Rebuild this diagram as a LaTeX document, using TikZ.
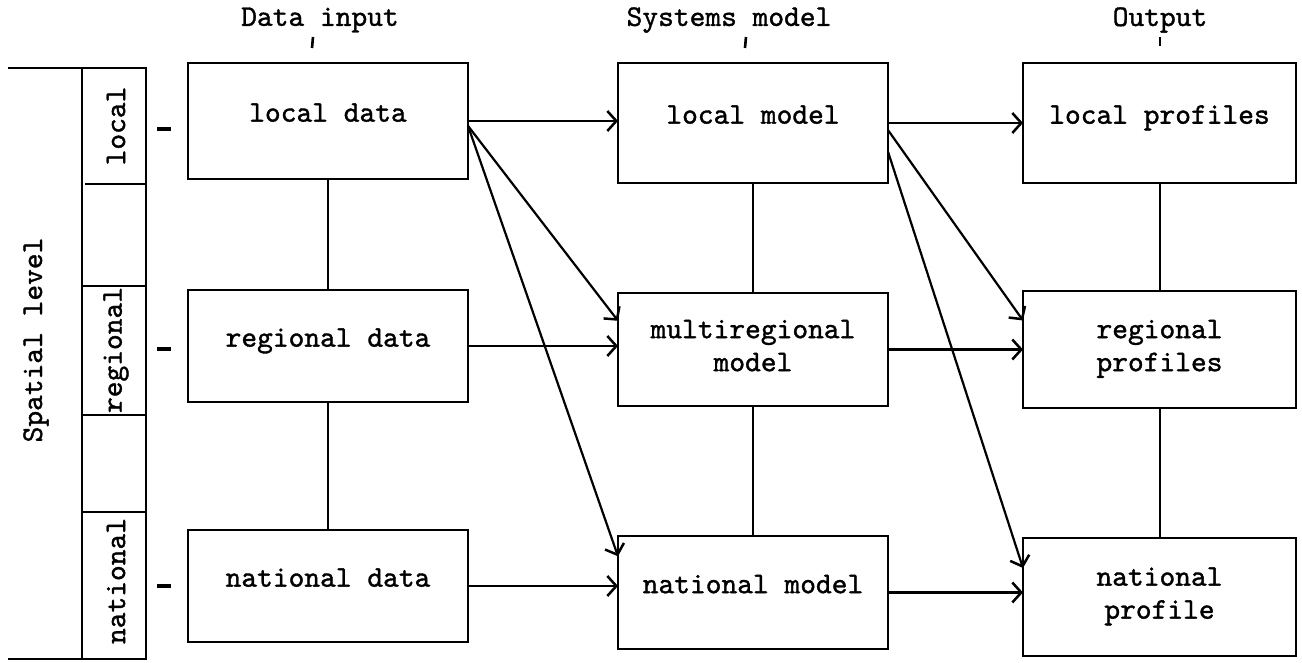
\documentclass[tikz,border=0pt]{standalone}
\usepackage{fontspec}
\newfontfamily\tw{lmmono10-regular.otf}[FakeBold=1.2]
\usetikzlibrary{arrows.meta,calc}
\begin{document}
\begin{tikzpicture}[x=1pt,y=-1pt,
  box/.style={draw,line width=2.2pt,inner sep=0pt,outer sep=0pt,anchor=north west,align=center,
    text depth=17pt,font=\tw\fontsize{30}{33}\selectfont},
  twoline/.style={text depth=8pt},
  hdr/.style={inner sep=0pt,font=\tw\fontsize{30}{33}\selectfont},
  lbl/.style={inner sep=0pt,rotate=90,font=\tw\fontsize{30}{33}\selectfont},
  conn/.style={line width=2pt},
  hmark/.style={line width=2.6pt},
  sidemark/.style={line width=3.5pt},
  arr/.style={line width=2.2pt,-{Straight Barb[length=9pt,width=20pt,line width=2.5pt]}}]
\useasboundingbox (0,0) rectangle (1302,663);
% headers
\node[hdr] (h1) at (320,20) {Data input};
\node[hdr] (h2) at (729,20) {Systems model};
\node[hdr] (h3) at (1160,20) {Output};
\draw[hmark] (313,37) -- (312,48);
\draw[hmark] (746,37) -- (745,48);
\draw[hmark] (1160,37) -- (1160,46);
% spatial level column
\draw[line width=2pt] (8,68) -- (146,68) -- (146,659) -- (8,659);
\draw[line width=1.6pt] (82,68) -- (82,659);
\draw[line width=2pt] (85,184) -- (146,184);
\draw[line width=2pt] (82,286) -- (146,286);
\draw[line width=2pt] (82,415) -- (146,415);
\draw[line width=2pt] (82,512) -- (146,512);
\node[lbl] (sl) at (36,340) {Spatial level};
\node[lbl] (llo) at (116,126) {local};
\node[lbl] (lre) at (116,350) {regional};
\node[lbl] (lna) at (116,581) {national};
\draw[sidemark] (157,129) -- (171,129);
\draw[sidemark] (157,349) -- (171,349);
\draw[sidemark] (157,586) -- (171,586);
% boxes
\node[box,minimum width=280pt,minimum height=116pt] (ld) at (188,63) {local data};
\node[box,minimum width=280pt,minimum height=112pt] (rd) at (188,290) {regional data};
\node[box,minimum width=280pt,minimum height=112pt] (nd) at (188,530) {national data};
\node[box,minimum width=270pt,minimum height=120pt] (lm) at (618,63) {local model};
\node[box,twoline,minimum width=270pt,minimum height=113pt] (mm) at (618,293) {multiregional\\model};
\node[box,minimum width=270pt,minimum height=113pt] (nm) at (618,536) {national model};
\node[box,minimum width=273pt,minimum height=120pt] (lp) at (1023,63) {local profiles};
\node[box,twoline,minimum width=273pt,minimum height=117pt] (rp) at (1023,291) {regional\\profiles};
\node[box,twoline,minimum width=273pt,minimum height=118pt] (np) at (1023,538) {national\\profile};
% vertical connectors
\draw[conn] (ld.south) -- (rd.north);
\draw[conn] (rd.south) -- (nd.north);
\draw[conn] (lm.south) -- (mm.north);
\draw[conn] (mm.south) -- (nm.north);
\draw[conn] (lp.south) -- (rp.north);
\draw[conn] (rp.south) -- (np.north);
% arrows
\draw[arr] (ld.east) -- (ld.east -| lm.west);
\draw[arr] (rd.east) -- (rd.east -| mm.west);
\draw[arr] (nd.east) -- (nd.east -| nm.west);
\draw[arr] (lm.east) -- (lm.east -| lp.west);
\draw[arr] (mm.east) -- (mm.east -| rp.west);
\draw[arr] (nm.east) -- (nm.east -| np.west);
\draw[arr] (ld.-2) -- (mm.168);
\draw[arr] (ld.-2) -- (nm.165);
\draw[arr] (lm.-3) -- (rp.168);
\draw[arr] (lm.-12) -- (np.168);
\end{tikzpicture}
\end{document}
